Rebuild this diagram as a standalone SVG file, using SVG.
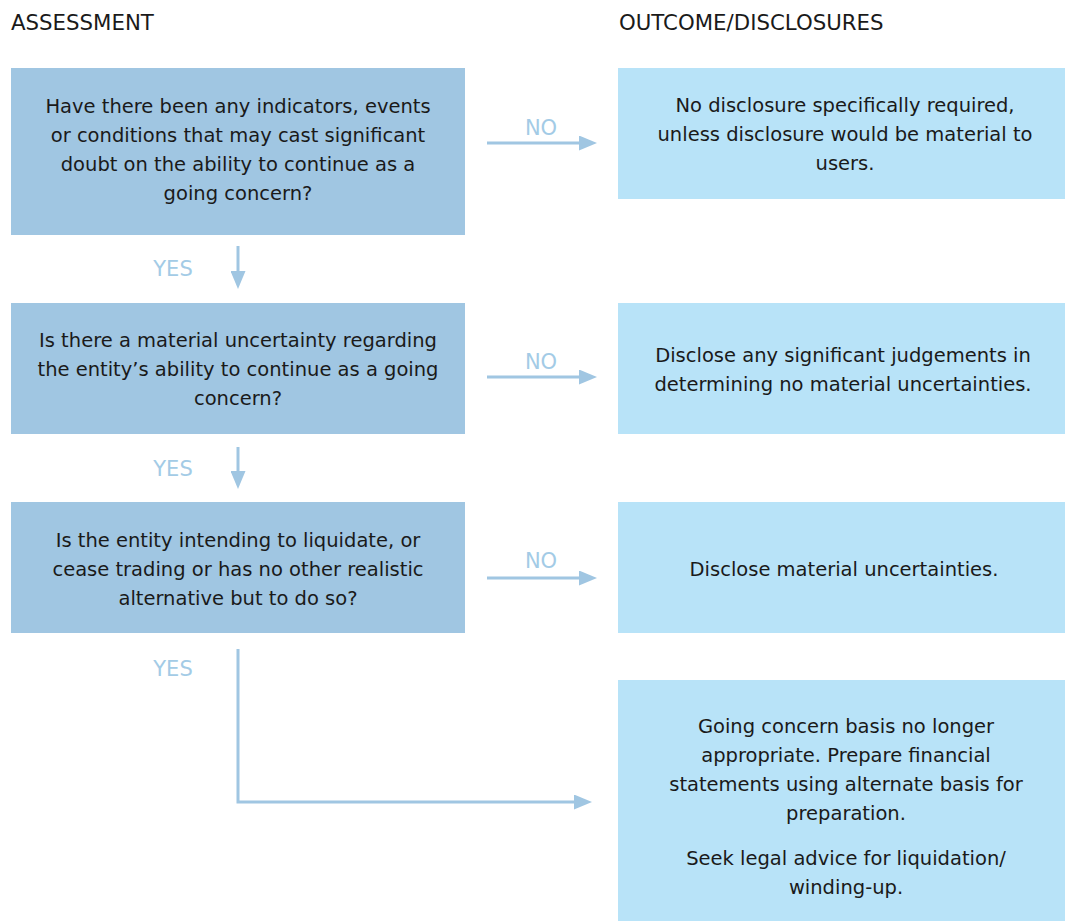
<svg xmlns="http://www.w3.org/2000/svg" width="1065" height="921" viewBox="0 0 1065 921">
<style>
.t{font-family:"DejaVu Sans","Liberation Sans",sans-serif;font-size:19.5px;fill:#1a1a1a;text-anchor:middle}
.h{font-family:"DejaVu Sans","Liberation Sans",sans-serif;font-size:21.3px;fill:#1a1a1a}
.l{font-family:"DejaVu Sans","Liberation Sans",sans-serif;font-size:21px;fill:#a3cbe6;text-anchor:middle}
.q{fill:#a0c6e2}
.o{fill:#b8e3f8}
.c{stroke:#a0c6e2;stroke-width:3;fill:none}
</style>
<defs>
<marker id="ah" markerWidth="6" markerHeight="5" refX="1" refY="2.5" orient="auto" markerUnits="strokeWidth">
<path d="M0,0 L6,2.5 L0,5 Z" fill="#a0c6e2"/>
</marker>
</defs>
<rect width="1065" height="921" fill="#ffffff"/>
<text class="h" x="11" y="30">ASSESSMENT</text>
<text class="h" x="619" y="30">OUTCOME/DISCLOSURES</text>

<g id="q1">
<rect class="q" x="11" y="68" width="454" height="167"/>
<text class="t" x="238" y="113">Have there been any indicators, events</text>
<text class="t" x="238" y="142">or conditions that may cast significant</text>
<text class="t" x="238" y="171">doubt on the ability to continue as a</text>
<text class="t" x="238" y="200">going concern?</text>
</g>
<g id="o1">
<rect class="o" x="618" y="68" width="447" height="131"/>
<text class="t" x="845" y="112">No disclosure specifically required,</text>
<text class="t" x="845" y="141">unless disclosure would be material to</text>
<text class="t" x="845" y="170">users.</text>
</g>
<g id="q2">
<rect class="q" x="11" y="303" width="454" height="131"/>
<text class="t" x="238" y="347">Is there a material uncertainty regarding</text>
<text class="t" x="238" y="376">the entity’s ability to continue as a going</text>
<text class="t" x="238" y="405">concern?</text>
</g>
<g id="o2">
<rect class="o" x="618" y="303" width="447" height="131"/>
<text class="t" x="843" y="362">Disclose any significant judgements in</text>
<text class="t" x="843" y="391">determining no material uncertainties.</text>
</g>
<g id="q3">
<rect class="q" x="11" y="502" width="454" height="131"/>
<text class="t" x="238" y="547">Is the entity intending to liquidate, or</text>
<text class="t" x="238" y="576">cease trading or has no other realistic</text>
<text class="t" x="238" y="605">alternative but to do so?</text>
</g>
<g id="o3">
<rect class="o" x="618" y="502" width="447" height="131"/>
<text class="t" x="844" y="576">Disclose material uncertainties.</text>
</g>
<g id="o4">
<rect class="o" x="618" y="680" width="447" height="241"/>
<text class="t" x="846" y="733">Going concern basis no longer</text>
<text class="t" x="846" y="762">appropriate. Prepare financial</text>
<text class="t" x="846" y="791">statements using alternate basis for</text>
<text class="t" x="846" y="820">preparation.</text>
<text class="t" x="846" y="865">Seek legal advice for liquidation/</text>
<text class="t" x="846" y="894">winding-up.</text>
</g>

<g id="connectors">
<line class="c" x1="487" y1="143" x2="582" y2="143" marker-end="url(#ah)"/>
<text class="l" x="541" y="135">NO</text>
<line class="c" x1="238" y1="246" x2="238" y2="274" marker-end="url(#ah)"/>
<text class="l" x="173" y="276">YES</text>
<line class="c" x1="487" y1="377" x2="582" y2="377" marker-end="url(#ah)"/>
<text class="l" x="541" y="369">NO</text>
<line class="c" x1="238" y1="447" x2="238" y2="474" marker-end="url(#ah)"/>
<text class="l" x="173" y="476">YES</text>
<line class="c" x1="487" y1="578" x2="582" y2="578" marker-end="url(#ah)"/>
<text class="l" x="541" y="568">NO</text>
<text class="l" x="173" y="676">YES</text>
<polyline class="c" points="238,649 238,802 577,802" marker-end="url(#ah)"/>
</g>
</svg>
